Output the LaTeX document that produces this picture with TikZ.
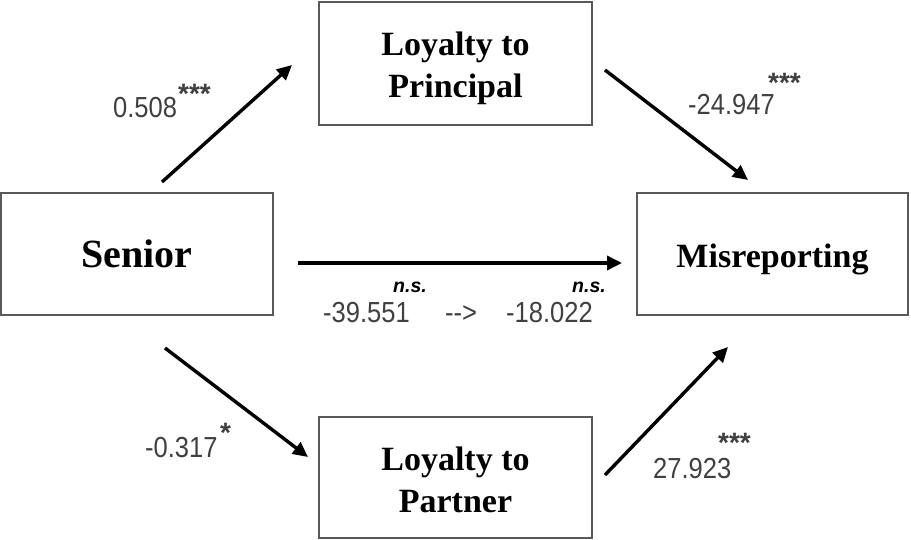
\documentclass[tikz,border=0pt]{standalone}
\usepackage{fontspec}
\setmainfont{Liberation Serif}
\newfontfamily\lab[FakeStretch=0.88]{Liberation Sans}
\newfontfamily\labns{Liberation Sans}
\usetikzlibrary{arrows.meta}
\definecolor{boxgray}{HTML}{595959}
\definecolor{numgray}{HTML}{404040}
\newcommand{\twoline}[3]{\raisebox{-#3}[\height][\depth]{\begin{tabular}{@{}c@{}}#1\\#2\end{tabular}}}
\begin{document}
\begin{tikzpicture}[x=1pt,y=-1pt,
 box/.style={draw=boxgray,line width=1.2pt,rectangle,inner sep=0pt,font=\bfseries\fontsize{34}{42}\selectfont},
 arr/.style={line width=3.4pt,-{Triangle[length=15pt,width=14pt]}},
 num/.style={anchor=base west,inner sep=0pt,text=numgray,font=\lab\fontsize{29}{32}\selectfont},
 star/.style={anchor=north west,inner sep=0pt,text=numgray,font=\labns\bfseries\fontsize{28}{30}\selectfont},
 ns/.style={anchor=base west,inner sep=0pt,text=black,font=\labns\bfseries\itshape\fontsize{19.5}{22}\selectfont}]
\useasboundingbox (0,0) rectangle (911,540);
\fill[white] (0,0) rectangle (911,540);
% boxes
\node[box,minimum width=273pt,minimum height=123pt] (prin) at (455.5,63.5) {\twoline{Loyalty to}{Principal}{5pt}};
\node[box,minimum width=272pt,minimum height=122pt,font=\bfseries\fontsize{40}{46}\selectfont] (sen) at (137,254) {Senior};
\node[box,minimum width=271pt,minimum height=122pt] (mis) at (772.5,254) {\raisebox{-5pt}[\height][\depth]{Misreporting}};
\node[box,minimum width=273pt,minimum height=121pt] (part) at (455.5,477.5) {\twoline{Loyalty to}{Partner}{6pt}};
% arrow ends
\coordinate (a1s) at (162,182); \coordinate (a1e) at (292,65);
\coordinate (a2s) at (605,70);  \coordinate (a2e) at (748,180);
\coordinate (a3s) at (298,263); \coordinate (a3e) at (622,263);
\coordinate (a4s) at (165,348); \coordinate (a4e) at (308,457);
\coordinate (a5s) at (605,475); \coordinate (a5e) at (728,347);
\draw[arr] (a1s) -- (a1e);
\draw[arr] (a2s) -- (a2e);
\draw[arr] (a3s) -- (a3e);
\draw[arr] (a4s) -- (a4e);
\draw[arr] (a5s) -- (a5e);
% labels
\node[num] (l1) at (113,118) {0.508};
\node[star] (l1s) at (178,84) {***};
\node[num] (l2) at (688,115) {-24.947};
\node[star] (l2s) at (768,73) {***};
\node[num] (l4) at (145,457) {-0.317};
\node[star] (l4s) at (220,423) {*};
\node[num] (l5) at (653,478) {27.923};
\node[star] (l5s) at (718,433) {***};
\node[num] (l3a) at (323,323) {-39.551};
\node[num] (l3b) at (445,323) {-{}->};
\node[num] (l3c) at (506,323) {-18.022};
\node[ns] (ns1) at (393,293) {n.s.};
\node[ns] (ns2) at (572,293) {n.s.};
\end{tikzpicture}
\end{document}
